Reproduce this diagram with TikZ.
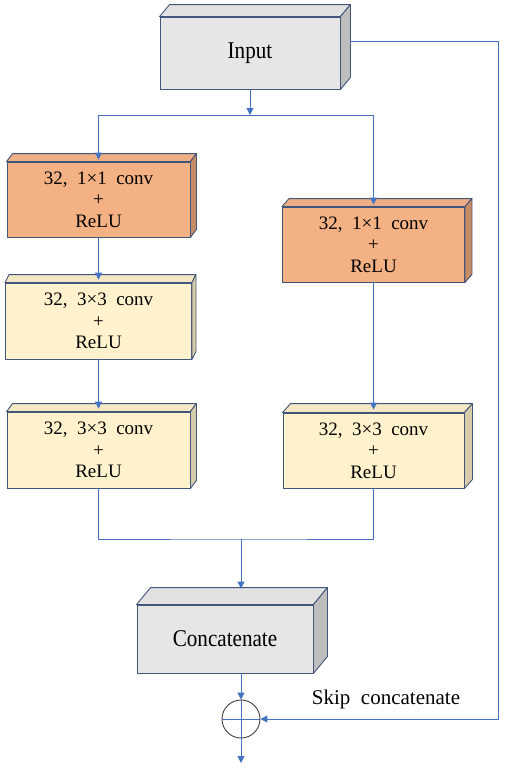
\documentclass[tikz,border=0pt]{standalone}
\usepackage{fontspec}
\setmainfont{Liberation Serif}
\newfontfamily\narrowserif{Liberation Serif}[FakeStretch=0.88]
\usetikzlibrary{arrows.meta,calc}

\definecolor{edgeblue}{HTML}{42557B}
\definecolor{lineblue}{HTML}{4472C4}
\definecolor{grayfront}{HTML}{E7E6E6}
\definecolor{graytop}{HTML}{E2E2E2}
\definecolor{grayside}{HTML}{BEBEBE}
\definecolor{orangefront}{HTML}{F4B183}
\definecolor{orangetop}{HTML}{EFAF86}
\definecolor{orangeside}{HTML}{C88C64}
\definecolor{yellowfront}{HTML}{FFF2CC}
\definecolor{yellowtop}{HTML}{F4E7C3}
\definecolor{yellowside}{HTML}{D7CCA9}

\tikzset{
  blk/.style={draw=edgeblue, line width=0.9pt, rectangle, align=center,
    inner sep=0pt, font=\fontsize{19}{21.5}\selectfont},
  bigblk/.style={blk, fill=grayfront, font=\narrowserif\fontsize{24}{26}\selectfont},
  face/.style={draw=edgeblue, line width=0.9pt, line join=round},
  line/.style={draw=lineblue, line width=1pt},
  arrow/.style={line, -{Triangle[width=7pt,length=7pt]}, lineblue},
}

% top and right side of a block: node, dx, dy, colour
\newcommand{\faces}[4]{%
  \draw[face, fill=#4top] (#1.north west) -- ++(#2,-#3)
    -- ([shift={(#2,-#3)}]#1.north east) -- (#1.north east) -- cycle;
  \draw[face, fill=#4side] (#1.north east) -- ++(#2,-#3)
    -- ([shift={(#2,-#3)}]#1.south east) -- (#1.south east) -- cycle;
}

\begin{document}
\begin{tikzpicture}[x=1pt, y=-1pt]
  \useasboundingbox (0,0) rectangle (506,772);

  \node[bigblk, minimum width=180pt, minimum height=72pt] (inp) at (250,53) {Input};
  \node[blk, fill=orangefront, minimum width=183pt, minimum height=75pt]
    (c1l) at (98.5,199.5) {32,\ \ 1×1\ \ conv\\+\\ReLU};
  \node[blk, fill=orangefront, minimum width=182pt, minimum height=75pt]
    (c1r) at (373.5,244.5) {32,\ \ 1×1\ \ conv\\+\\ReLU};
  \node[blk, fill=yellowfront, minimum width=186pt, minimum height=76pt]
    (c2l) at (98.5,321) {32,\ \ 3×3\ \ conv\\+\\ReLU};
  \node[blk, fill=yellowfront, minimum width=183pt, minimum height=76pt]
    (c3l) at (98.5,450) {32,\ \ 3×3\ \ conv\\+\\ReLU};
  \node[blk, fill=yellowfront, minimum width=181pt, minimum height=75pt]
    (c2r) at (373.5,450.5) {32,\ \ 3×3\ \ conv\\+\\ReLU};
  \node[bigblk, minimum width=176pt, minimum height=68pt] (cat) at (225,639) {Concatenate};

  \faces{inp}{10}{12}{gray}
  \faces{c1l}{6}{8}{orange}
  \faces{c1r}{7}{8}{orange}
  \faces{c2l}{4}{8}{yellow}
  \faces{c3l}{6}{8}{yellow}
  \faces{c2r}{8}{9}{yellow}
  \faces{cat}{14}{17}{gray}

  \node[circle, draw=black!75, line width=0.9pt, minimum size=38pt,
    inner sep=0pt,
    path picture={\draw[line] (path picture bounding box.north) --
      (path picture bounding box.south);
      \draw[line] (path picture bounding box.west) --
      (path picture bounding box.east);}] (sum) at (241,719) {};

  \node[anchor=base, font=\fontsize{21}{24}\selectfont] (skiplbl)
    at (386,704) {Skip\ \ concatenate};

  \coordinate (split) at (250,115);
  \coordinate (merge) at (241,539);
  \coordinate (cattop) at ([yshift=16pt]cat.north);
  \coordinate (out) at (241,763);

  \draw[arrow] (inp.south) -- (split);
  \draw[line] (split) -- (split -| c1l.north) (split) -- (split -| c1r.north);
  \draw[arrow] (split -| c1l.north) -- ([yshift=2pt]c1l.north);
  \draw[arrow] (split -| c1r.north) -- ([yshift=2pt]c1r.north);
  \draw[arrow] (c1l.south) -- ([yshift=3pt]c2l.north);
  \draw[arrow] (c2l.south) -- ([yshift=3pt]c3l.north);
  \draw[arrow] (c1r.south) -- ([yshift=3pt]c2r.north);
  \draw[line] (c3l.south) |- (merge) -| (c2r.south);
  \draw[arrow] (merge) -- (merge |- cattop);
  \draw[arrow] (sum |- cat.south) -- (sum.north);
  \draw[arrow] ([shift={(10,-12)}]inp.east) -- ++(148,0) |- (sum.east);
  \draw[arrow] (sum.south) -- (out);
\end{tikzpicture}
\end{document}
